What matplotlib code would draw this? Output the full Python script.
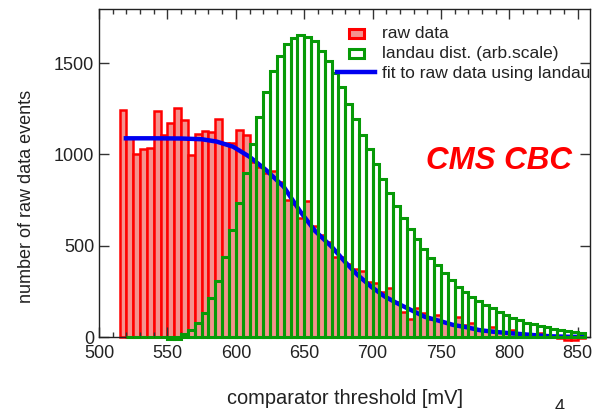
import numpy as np
import matplotlib
matplotlib.use('Agg')
import matplotlib.pyplot as plt
import matplotlib.patches as mpatches
from matplotlib.lines import Line2D
from matplotlib.legend_handler import HandlerPatch

plt.rcParams['font.family'] = 'Liberation Sans'

# bin left edges [mV], 5 mV bins
bin_left = np.arange(515, 855, 5)

raw_data = [1243, 1090, 1000, 1030, 1033, 1240, 1106, 1170, 1252, 1188,
            997, 1110, 1128, 1121, 1192, 1064, 1060, 1133, 1106, 960,
            930, 900, 911, 850, 750, 730, 650, 746, 610, 560,
            520, 440, 440, 400, 370, 363, 300, 297, 245, 270,
            190, 139, 97, 157, 133, 100, 120, 80, 70, 108,
            66, 75, 45, 40, 56, 30, 25, 38, 15, 12,
            10, 24, 5, 3, -5, -15, -15, -5]

landau = [0, 0, 0, 0, 0, 0, 0, -12, -12, 16,
          38, 78, 133, 212, 308, 440, 586, 735, 896, 1057,
          1206, 1343, 1457, 1539, 1603, 1636, 1654, 1641, 1621, 1564,
          1510, 1448, 1371, 1275, 1192, 1106, 1028, 945, 866, 790,
          718, 652, 590, 535, 480, 431, 393, 352, 312, 275,
          248, 221, 199, 175, 157, 139, 120, 106, 93, 78,
          71, 62, 53, 44, 38, 35, 29, 24]

fit_x = [518, 540, 560, 575, 586, 598, 610, 622, 635, 647, 658, 670, 680,
         689, 699, 709, 719, 728, 738, 749, 759, 769, 778, 788, 802, 817,
         830, 845, 855]
fit_y = [1088, 1088, 1087, 1083, 1070, 1042, 987, 915, 823, 688, 580, 495, 410,
         340, 275, 221, 181, 148, 111, 88, 66, 53, 38, 29, 20, 11,
         4, 1, 0]

red = '#ff0000'
pink = '#f4928e'
green = '#079a07'
blue = '#0000f0'
txt = '#222222'

fig = plt.figure(figsize=(6.04, 4.09), dpi=100)
ax = fig.add_axes([0.164, 0.176, 0.813, 0.802])

ax.bar(bin_left, raw_data, width=5, align='edge', color=pink, edgecolor=red,
       linewidth=1.8, zorder=1, clip_on=False)
ax.plot(fit_x, fit_y, color=blue, linewidth=3.2, zorder=2, solid_capstyle='butt')
ax.bar(bin_left[1:], landau[1:], width=5, align='edge', facecolor='none',
       edgecolor=green, linewidth=2.2, zorder=3, clip_on=False)

ax.set_xlim(500, 859)
ax.set_ylim(0, 1796)
ax.set_xticks(np.arange(500, 851, 50))
ax.set_xticks(np.arange(500, 860, 10), minor=True)
ax.set_yticks([0, 500, 1000, 1500])
ax.tick_params(axis='both', which='both', direction='in', top=True, right=True,
               labelsize=13, labelcolor=txt, color='#333333')
ax.tick_params(axis='both', which='major', length=7, width=1)
ax.tick_params(axis='x', which='major', pad=6)
ax.tick_params(axis='x', which='minor', length=3.5, width=1)
for s in ax.spines.values():
    s.set_color('#222222')
    s.set_linewidth(1)

ax.set_xlabel('comparator threshold [mV]', fontsize=14.4, color=txt, labelpad=19)
ax.set_ylabel('number of raw data events', fontsize=13, color=txt)
ax.yaxis.set_label_coords(-0.13, 0.43)

fig.text(0.826, 0.606, 'CMS CBC', color=red, fontsize=22.5, fontweight='bold',
         fontstyle='italic', ha='center', va='center')
fig.text(0.927, 0.024, '4', fontsize=13, color=txt, ha='center', va='top')


def small_box(legend, orig_handle, xdescent, ydescent, width, height, fontsize):
    return mpatches.Rectangle((width * 0.3 - xdescent, 0.05 * height - ydescent),
                              width * 0.4, height * 0.75)


handles = [mpatches.Patch(facecolor=pink, edgecolor=red, linewidth=2.2),
           mpatches.Patch(facecolor='white', edgecolor=green, linewidth=2.2),
           Line2D([], [], color=blue, linewidth=3.2)]
labels = ['raw data', 'landau dist. (arb.scale)', 'fit to raw data using landau']
leg = ax.legend(handles, labels, loc='upper right', bbox_to_anchor=(1.021, 0.979),
                frameon=False, fontsize=12.5, handlelength=2.2, handletextpad=0.35,
                labelspacing=0.27, borderaxespad=0.2,
                handler_map={mpatches.Patch: HandlerPatch(patch_func=small_box)})
for t in leg.get_texts():
    t.set_color(txt)

fig.savefig('out.png', dpi=100)
